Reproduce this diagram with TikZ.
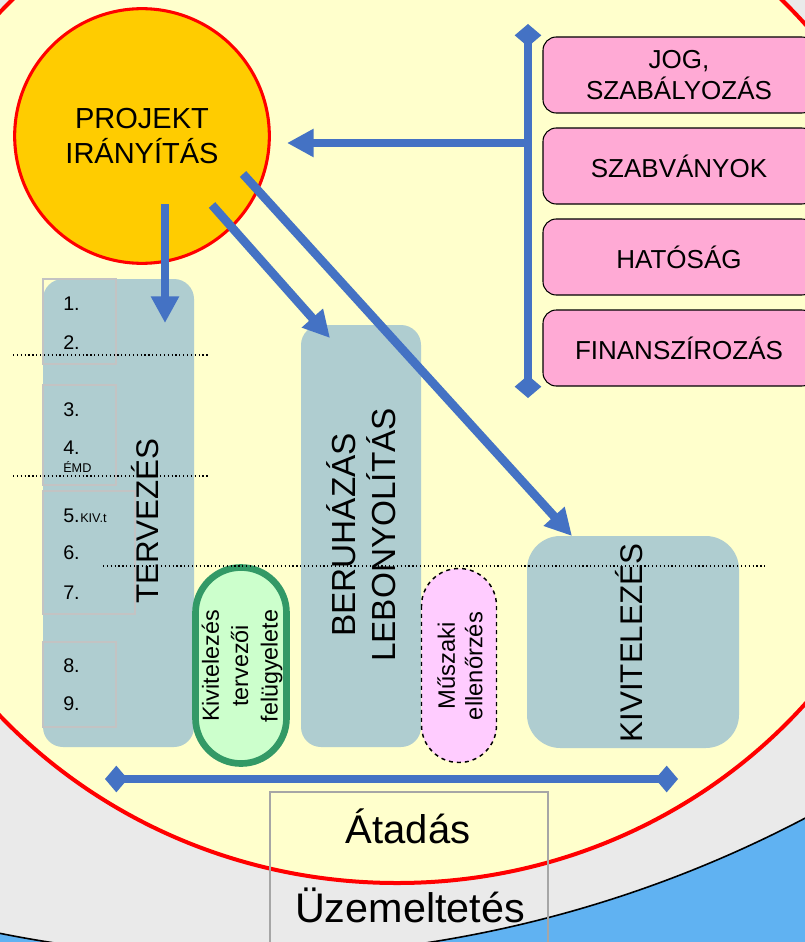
\documentclass[tikz,border=0pt]{standalone}
\usepackage{fontspec}
\setmainfont{Liberation Sans}
\usetikzlibrary{arrows.meta}
\definecolor{bgblue}{RGB}{96,178,242}
\definecolor{ringgray}{RGB}{234,234,234}
\definecolor{paleyellow}{RGB}{255,255,204}
\definecolor{projorange}{RGB}{255,204,0}
\definecolor{arrowblue}{RGB}{68,114,196}
\definecolor{tealgray}{RGB}{175,205,208}
\definecolor{boxpink}{RGB}{255,170,213}
\definecolor{lightpink}{RGB}{255,204,255}
\definecolor{lightgreen}{RGB}{204,255,204}
\definecolor{darkgreen}{RGB}{51,153,102}
\definecolor{framegray}{RGB}{166,166,166}
\definecolor{numgray}{RGB}{195,195,195}
\tikzset{
	bluearrow/.style={draw=arrowblue,line width=6.5pt,-{Triangle[length=20pt,width=20pt]}},
	bluebar/.style={draw=arrowblue,line width=6pt,{Diamond[length=17pt,width=20pt]}-{Diamond[length=17pt,width=20pt]}},
	phasebox/.style={fill=tealgray,rounded corners=15pt},
	pinkbox/.style={draw=black,line width=0.8pt,fill=boxpink,rounded corners=10pt,minimum width=204pt,minimum height=57pt,align=center,font=\fontsize{19.5}{23.25}\selectfont},
	numbox/.style={draw=numgray,line width=0.8pt},
	sepline/.style={dotted,line width=0.9pt},
	numtext/.style={anchor=base west,inner sep=0pt,font=\fontsize{14.8}{17}\selectfont},
	smalltext/.style={anchor=base west,inner sep=0pt,font=\fontsize{9.5}{11}\selectfont},
	phasetext/.style={rotate=90,align=center,inner sep=0pt,font=\fontsize{23.5}{29}\selectfont},
}
\begin{document}
\begin{tikzpicture}[x=0.75pt,y=-0.75pt]
			\useasboundingbox (0,0) rectangle (805,942);
			\clip (0,0) rectangle (805,942);
			\fill [bgblue] (0,0) rectangle (805,942);
			\draw [line width=1.2pt,fill=ringgray] (240,-260) circle (1217);
			\draw [line width=3pt,draw=red,fill=paleyellow] (397,364) ellipse (540 and 519);
			\coordinate (Vtop) at (528,24);
			\coordinate (Vbot) at (528,398);
			\coordinate (Vmid) at (528,143);
			\coordinate (Pin) at (287,143);
			\coordinate (P1) at (165,204);
			\coordinate (T1) at (165,323);
			\coordinate (P2) at (212,205);
			\coordinate (B1) at (330,338);
			\coordinate (P3) at (243,174);
			\coordinate (K1) at (572,536);
			\coordinate (H1) at (105,779);
			\coordinate (H2) at (678,779);
			% phase columns
			\fill [phasebox] (43,279) rectangle (194,747);
			\fill [phasebox] (301,325) rectangle (421,747);
			\fill [phasebox,rounded corners=25pt] (527,536) rectangle (739,748);
			\draw [numbox] (43,279) rectangle (116,364);
			\draw [numbox] (43,385) rectangle (116,485);
			\draw [numbox] (43,491) rectangle (135,614);
			\draw [numbox] (43,642) rectangle (116,727);
			\draw [line width=5pt,draw=darkgreen,fill=lightgreen,rounded corners=34pt] (195.5,567.5) rectangle (286.5,763.5);
			\draw [line width=1.1pt,dashed,fill=lightpink,rounded corners=28pt] (421.5,568.5) rectangle (496.5,762.5);
			\draw [sepline] (13,355) -- (208,355);
			\draw [sepline] (13,476) -- (208,476);
			\draw [sepline] (103,566) -- (767,566);
			\node [circle,draw=red,line width=2.3pt,fill=projorange,minimum size=191pt,inner sep=0pt,align=center,font=\fontsize{21.75}{26}\selectfont] (proj) at (142,136) {PROJEKT\\IRÁNYÍTÁS};
			\node [pinkbox] (jog) at (679,75) {JOG,\\SZABÁLYOZÁS};
			\node [pinkbox] (szabv) at (679,166) {SZABVÁNYOK};
			\node [pinkbox] (hatosag) at (679,257) {HATÓSÁG};
			\node [pinkbox] (finansz) at (679,348) {FINANSZÍROZÁS};
			\draw [bluebar] (Vtop) to (Vbot);
			\draw [bluearrow] (Vmid) to (Pin);
			\draw [bluearrow] (P1) to (T1);
			\draw [bluearrow] (P2) to (B1);
			\draw [bluearrow] (P3) to (K1);
			\draw [bluebar] (H1) to (H2);
			\foreach \n/\y in {1/310,2/349,3/416,4/454,5/522,6/559,7/599,8/672,9/710}
				\node [numtext] (num\n) at (63,\y) {\n.};
			\node [smalltext] (emd) at (63,472) {ÉMD};
			\node [smalltext] (kivt) at (num5.base east) {KIV.t};
			\node [phasetext] (terv) at (145,521) {TERVEZÉS};
			\node [phasetext,font=\fontsize{25}{30}\selectfont] (beruh) at (361,535) {BERUHÁZÁS\\LEBONYOLÍTÁS};
			\node [phasetext] (kivit) at (629,643) {KIVITELEZÉS};
			\node [rotate=90,align=center,inner sep=0pt,font=\fontsize{17.5}{22}\selectfont] (felug) at (242,666) {Kivitelezés\\tervezői\\felügyelete};
			\node [rotate=90,align=center,inner sep=0pt,font=\fontsize{17.8}{20.5}\selectfont] (muszaki) at (460,666) {Műszaki\\ellenőrzés};
			\draw [line width=1.1pt,draw=framegray] (270,792) rectangle (548,960);
			\node [anchor=base,font=\fontsize{30}{36}\selectfont] (atadas) at (408,843) {Átadás};
			\node [anchor=base,font=\fontsize{31}{37}\selectfont] (uzem) at (410,922) {Üzemeltetés};
		\end{tikzpicture}
\end{document}
